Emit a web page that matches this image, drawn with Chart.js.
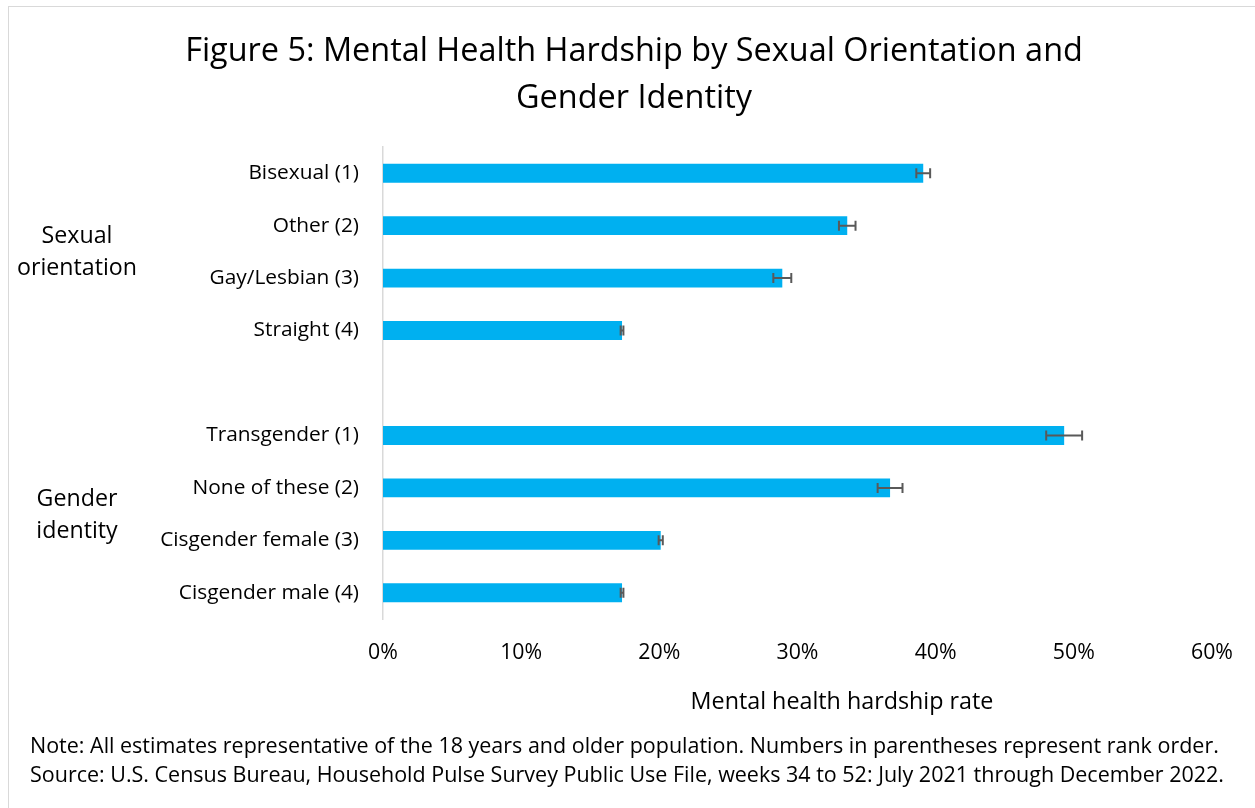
<!DOCTYPE html>
<html>
<head>
<meta charset="utf-8">
<script src="https://cdn.jsdelivr.net/npm/chart.js@4.4.1/dist/chart.umd.min.js"></script>
<style>
  html, body { margin: 0; padding: 0; background: #fff; }
  #wrap { position: relative; width: 1255px; height: 808px; overflow: hidden; }
  #frame { position: absolute; left: 8px; top: 6px; width: 1260px; height: 820px; border: 1.5px solid #d9d9d9; box-sizing: border-box; }
  canvas { position: absolute; left: 0; top: 0; }
</style>
</head>
<body>
<div id="wrap">
  <div id="frame"></div>
  <canvas id="c" width="1255" height="808"></canvas>
</div>
<script>
const FONT = '"Open Sans", sans-serif';

const categories = [
  'Bisexual (1)', 'Other (2)', 'Gay/Lesbian (3)', 'Straight (4)', '',
  'Transgender (1)', 'None of these (2)', 'Cisgender female (3)', 'Cisgender male (4)'
];
const values = [39.1, 33.6, 28.9, 17.3, null, 49.3, 36.7, 20.1, 17.3];
const errorMargins = [0.5, 0.6, 0.65, 0.1, null, 1.3, 0.9, 0.15, 0.1];
const xTicks = [0, 10, 20, 30, 40, 50, 60];
const groupLabels = [['Sexual', 'orientation'], ['Gender', 'identity']];
const groupSpans = [[0, 3], [5, 8]];
const titleLines = ['Figure 5: Mental Health Hardship by Sexual Orientation and', 'Gender Identity'];
const xAxisTitle = 'Mental health hardship rate';
const noteLines = [
  'Note: All estimates representative of the 18 years and older population. Numbers in parentheses represent rank order.',
  'Source: U.S. Census Bureau, Household Pulse Survey Public Use File, weeks 34 to 52: July 2021 through December 2022.'
];

// size text so its width matches the reference layout
const mctx = document.createElement('canvas').getContext('2d');
function fitSize(text, width) {
  mctx.font = '100px ' + FONT;
  return 100 * width / mctx.measureText(text).width;
}
const titleSize = fitSize(titleLines[0], 898);
const tickSize = fitSize('Cisgender female (3)', 199);
const groupSize = fitSize('orientation', 120);
const axisTitleSize = fitSize(xAxisTitle, 303);
const noteSize = fitSize(noteLines[0], 1189);
const xTickSize = fitSize('10%', 42);

const decorPlugin = {
  id: 'decor',
  afterDatasetsDraw(chart) {
    const ctx = chart.ctx;
    const xs = chart.scales.x, ys = chart.scales.y;
    ctx.save();
    ctx.strokeStyle = '#595959';
    ctx.lineWidth = 2;
    values.forEach((v, i) => {
      if (v == null) return;
      const e = errorMargins[i];
      const y = ys.getPixelForValue(i);
      const x1 = xs.getPixelForValue(v - e), x2 = xs.getPixelForValue(v + e);
      ctx.beginPath();
      ctx.moveTo(x1, y); ctx.lineTo(x2, y);
      ctx.moveTo(x1, y - 5); ctx.lineTo(x1, y + 5);
      ctx.moveTo(x2, y - 5); ctx.lineTo(x2, y + 5);
      ctx.stroke();
    });
    ctx.restore();
  },
  afterDraw(chart) {
    const ctx = chart.ctx;
    const ys = chart.scales.y;
    ctx.save();
    ctx.fillStyle = '#000';
    ctx.textAlign = 'center';
    ctx.textBaseline = 'middle';
    ctx.font = titleSize.toFixed(2) + 'px ' + FONT;
    ctx.fillText(titleLines[0], 634, 52);
    ctx.fillText(titleLines[1], 634, 99);
    ctx.font = groupSize.toFixed(2) + 'px ' + FONT;
    groupLabels.forEach((lines, g) => {
      const yc = (ys.getPixelForValue(groupSpans[g][0]) + ys.getPixelForValue(groupSpans[g][1])) / 2;
      ctx.fillText(lines[0], 77, yc - 15);
      ctx.fillText(lines[1], 77, yc + 17);
    });
    ctx.font = axisTitleSize.toFixed(2) + 'px ' + FONT;
    ctx.fillText(xAxisTitle, 842, 702);
    ctx.textAlign = 'left';
    ctx.font = noteSize.toFixed(2) + 'px ' + FONT;
    ctx.fillText(noteLines[0], 30, 747);
    ctx.fillText(noteLines[1], 30, 776);
    ctx.restore();
  }
};

new Chart(document.getElementById('c'), {
  type: 'bar',
  data: {
    labels: categories,
    datasets: [{
      data: values,
      backgroundColor: '#00B0F0',
      borderWidth: 0,
      barPercentage: 0.36,
      categoryPercentage: 1.0
    }]
  },
  options: {
    indexAxis: 'y',
    responsive: false,
    animation: false,
    devicePixelRatio: 1,
    layout: { padding: { left: 0, right: 43, top: 147, bottom: 129 } },
    plugins: { legend: { display: false }, tooltip: { enabled: false }, title: { display: false } },
    scales: {
      y: {
        afterFit(scale) { scale.width = 383; },
        grid: { display: false, drawTicks: false },
        border: { display: true, color: '#d9d9d9', width: 1.5 },
        ticks: { color: '#000', padding: 24, font: { family: FONT, size: tickSize } }
      },
      x: {
        min: 0, max: 60,
        afterFit(scale) { scale.height = 60; },
        afterBuildTicks(scale) { scale.ticks = xTicks.map(v => ({ value: v })); },
        grid: { display: false, drawTicks: false },
        border: { display: false },
        ticks: { color: '#000', padding: 21, font: { family: FONT, size: xTickSize }, callback: v => v + '%' }
      }
    }
  },
  plugins: [decorPlugin]
});
</script>
</body>
</html>
